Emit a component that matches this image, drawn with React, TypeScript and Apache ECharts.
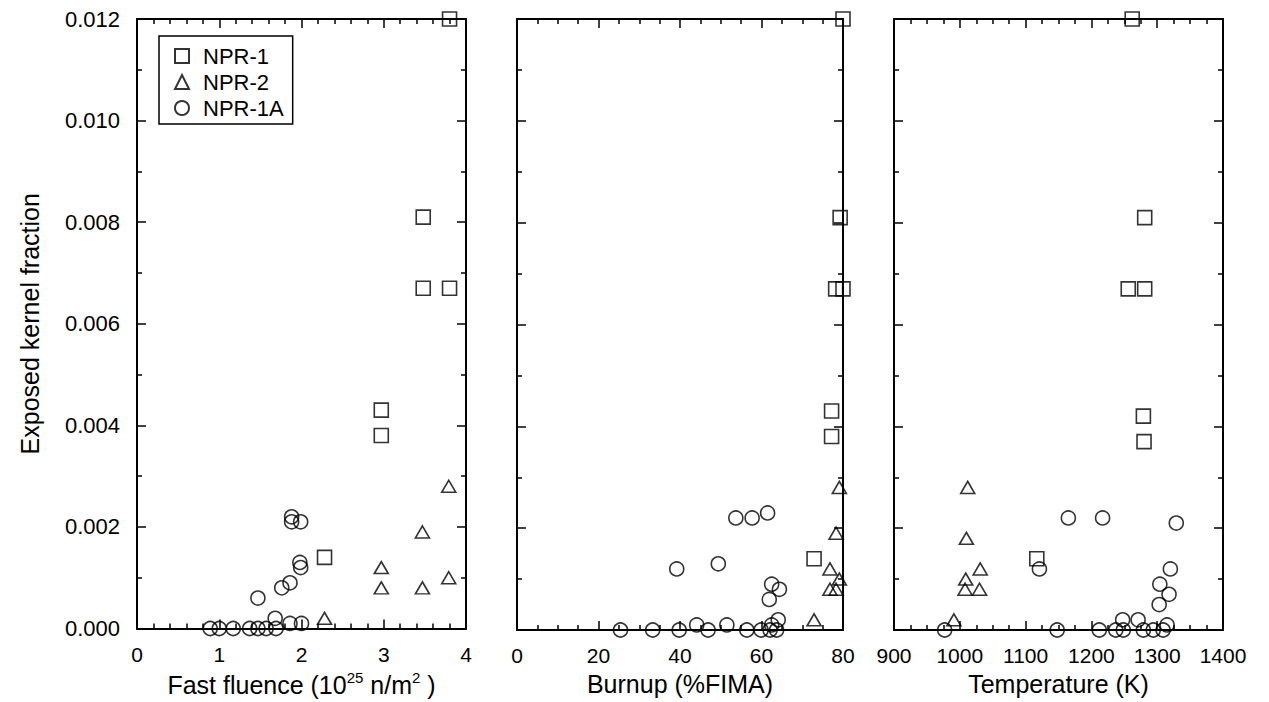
import React, { useEffect, useRef } from "react";
import * as echarts from "echarts";

// ---------- Data ----------
// Panel 1: fast fluence (10^25 n/m^2)
const npr1Fluence = [3.8, 3.48, 3.48, 3.8, 2.97, 2.97, 2.28];
const npr1FluenceFrac = [0.012, 0.0081, 0.0067, 0.0067, 0.0043, 0.0038, 0.0014];
const npr2Fluence = [3.79, 3.47, 2.97, 2.97, 3.47, 3.79, 2.28];
const npr2FluenceFrac = [0.0028, 0.0019, 0.0012, 0.0008, 0.0008, 0.001, 0.0002];
const npr1aFluence = [0.89, 1.0, 1.17, 1.37, 1.47, 1.57, 1.69, 1.68, 1.86, 2.0, 1.47, 1.76, 1.86, 1.98, 1.99, 1.88, 1.88, 1.99];
const npr1aFluenceFrac = [0, 0, 0, 0, 0, 0, 0, 0.0002, 0.0001, 0.0001, 0.0006, 0.0008, 0.0009, 0.0013, 0.0012, 0.0022, 0.0021, 0.0021];

// Panel 2: burnup (%FIMA)
const npr1Burnup = [80, 79.3, 78.2, 80, 77.2, 77.2, 72.9];
const npr1BurnupFrac = [0.012, 0.0081, 0.0067, 0.0067, 0.0043, 0.0038, 0.0014];
const npr2Burnup = [79.1, 78.3, 76.8, 79.1, 76.8, 78.3, 72.9];
const npr2BurnupFrac = [0.0028, 0.0019, 0.0012, 0.001, 0.0008, 0.0008, 0.0002];
const npr1aBurnup = [25.4, 33.3, 39.8, 46.9, 56.4, 59.9, 62.1, 63.7, 44.1, 51.5, 62.5, 64.1, 61.9, 64.4, 62.5, 39.2, 49.4, 53.7, 57.7, 61.5];
const npr1aBurnupFrac = [0, 0, 0, 0, 0, 0, 0, 0, 0.0001, 0.0001, 0.0001, 0.0002, 0.0006, 0.0008, 0.0009, 0.0012, 0.0013, 0.0022, 0.0022, 0.0023];

// Panel 3: temperature (K)
const npr1Temp = [1262, 1281, 1256, 1281, 1279, 1280, 1117];
const npr1TempFrac = [0.012, 0.0081, 0.0067, 0.0067, 0.0042, 0.0037, 0.0014];
const npr2Temp = [1012, 1010, 1009, 1031, 1008, 1030, 991];
const npr2TempFrac = [0.0028, 0.0018, 0.001, 0.0012, 0.0008, 0.0008, 0.0002];
const npr1aTemp = [977, 1148, 1212, 1237, 1248.5, 1279, 1294, 1309, 1315, 1247.5, 1271, 1303, 1318, 1304, 1320, 1121, 1165, 1217, 1329];
const npr1aTempFrac = [0, 0, 0, 0, 0, 0, 0, 0, 0.0001, 0.0002, 0.0002, 0.0005, 0.0007, 0.0009, 0.0012, 0.0012, 0.0022, 0.0022, 0.0021];

const seriesNames = ["NPR-1", "NPR-2", "NPR-1A"];
const yTitle = "Exposed kernel fraction";

const FONT = '"Liberation Sans", Arial, Helvetica, sans-serif';
const BLACK = "#000";

function xAxesFor(gi: number, min: number, max: number, interval: number, minorSplit: number, name: string, rich?: any) {
  const common = {
    type: "value",
    gridIndex: gi,
    min,
    max,
    interval,
    splitLine: { show: false },
    axisLine: { show: true, onZero: false, lineStyle: { color: BLACK, width: 2 } },
    axisTick: { show: true, inside: true, length: 9, lineStyle: { color: BLACK, width: 1.5 } },
    minorTick: { show: true, splitNumber: minorSplit, length: 5, lineStyle: { color: BLACK, width: 1.5 } },
    minorSplitLine: { show: false },
  };
  return [
    {
      ...common,
      position: "bottom",
      axisLabel: {
        show: true,
        margin: 15,
        color: BLACK,
        fontFamily: FONT,
        fontSize: 21,
        formatter: (v: number) => String(v),
      },
      name,
      nameLocation: "middle",
      nameGap: 41,
      nameTextStyle: rich
        ? { color: BLACK, fontFamily: FONT, fontSize: 25, rich }
        : { color: BLACK, fontFamily: FONT, fontSize: 25 },
    },
    { ...common, position: "top", axisLabel: { show: false } },
  ];
}

function yAxesFor(gi: number, showLabels: boolean) {
  const common = {
    type: "value",
    gridIndex: gi,
    min: 0,
    max: 0.012,
    interval: 0.002,
    splitLine: { show: false },
    axisLine: { show: true, onZero: false, lineStyle: { color: BLACK, width: 2 } },
    axisTick: { show: true, inside: true, length: 9, lineStyle: { color: BLACK, width: 1.5 } },
    minorTick: { show: true, splitNumber: 2, length: 5, lineStyle: { color: BLACK, width: 1.5 } },
    minorSplitLine: { show: false },
  };
  const left: any = {
    ...common,
    position: "left",
    axisLabel: showLabels
      ? { show: true, margin: 17, color: BLACK, fontFamily: FONT, fontSize: 22, formatter: (v: number) => v.toFixed(3) }
      : { show: false },
  };
  if (showLabels) {
    left.name = yTitle;
    left.nameLocation = "middle";
    left.nameGap = 95;
    left.nameTextStyle = { color: BLACK, fontFamily: FONT, fontSize: 25 };
  }
  return [left, { ...common, position: "right", axisLabel: { show: false } }];
}

function scatter(name: string, symbol: string, size: any, xs: number[], ys: number[], gi: number) {
  return {
    type: "scatter",
    name,
    symbol,
    symbolSize: size,
    xAxisIndex: 2 * gi,
    yAxisIndex: 2 * gi,
    clip: false,
    silent: true,
    data: xs.map((x, k) => [x, ys[k]]),
    itemStyle: { color: "rgba(0,0,0,0)", borderColor: BLACK, borderWidth: 1.6 },
    emphasis: { disabled: true },
  };
}

const SQ = 14;
const TRI = [14, 12];
const CIR = 14;

export default function App() {
  const ref = useRef<HTMLDivElement>(null);
  useEffect(() => {
    if (!ref.current) return;
    const chart = echarts.init(ref.current, null, { renderer: "svg" });
    const fluenceRich = {
      a: { fontSize: 25, fontFamily: FONT, color: BLACK, lineHeight: 30 },
      b: { fontSize: 15, fontFamily: FONT, color: BLACK, lineHeight: 20, verticalAlign: "top" },
    };
    const option: any = {
      animation: false,
      backgroundColor: "#fff",
      textStyle: { fontFamily: FONT, color: BLACK },
      grid: [
        { left: 137, top: 19, width: 329, height: 611 },
        { left: 517, top: 19, width: 326, height: 611 },
        { left: 894, top: 19, width: 329, height: 611 },
      ],
      xAxis: [
        ...xAxesFor(0, 0, 4, 1, 5, "{a|Fast fluence (10}{b|25}{a| n/m}{b|2}{a| )}", fluenceRich),
        ...xAxesFor(1, 0, 80, 20, 4, "Burnup (%FIMA)"),
        ...xAxesFor(2, 900, 1400, 100, 4, "Temperature (K)"),
      ],
      yAxis: [...yAxesFor(0, true), ...yAxesFor(1, false), ...yAxesFor(2, false)],
      legend: {
        show: true,
        orient: "vertical",
        left: 159,
        top: 36,
        data: seriesNames,
        selectedMode: false,
        borderColor: BLACK,
        borderWidth: 1.5,
        borderRadius: 0,
        padding: [9, 9, 5, 15],
        itemGap: 4,
        itemWidth: 14,
        itemHeight: 14,
        textStyle: { color: BLACK, fontFamily: FONT, fontSize: 22, padding: [0, 0, 0, 9] },
      },
      series: [
        scatter(seriesNames[0], "rect", SQ, npr1Fluence, npr1FluenceFrac, 0),
        scatter(seriesNames[1], "triangle", TRI, npr2Fluence, npr2FluenceFrac, 0),
        scatter(seriesNames[2], "circle", CIR, npr1aFluence, npr1aFluenceFrac, 0),
        scatter(seriesNames[0], "rect", SQ, npr1Burnup, npr1BurnupFrac, 1),
        scatter(seriesNames[1], "triangle", TRI, npr2Burnup, npr2BurnupFrac, 1),
        scatter(seriesNames[2], "circle", CIR, npr1aBurnup, npr1aBurnupFrac, 1),
        scatter(seriesNames[0], "rect", SQ, npr1Temp, npr1TempFrac, 2),
        scatter(seriesNames[1], "triangle", TRI, npr2Temp, npr2TempFrac, 2),
        scatter(seriesNames[2], "circle", CIR, npr1aTemp, npr1aTempFrac, 2),
      ],
    };
    chart.setOption(option);
    return () => chart.dispose();
  }, []);
  return (
    <div
      ref={ref}
      style={{ position: "fixed", left: 0, top: 0, width: "1269px", height: "702px", background: "#fff" }}
    />
  );
}
